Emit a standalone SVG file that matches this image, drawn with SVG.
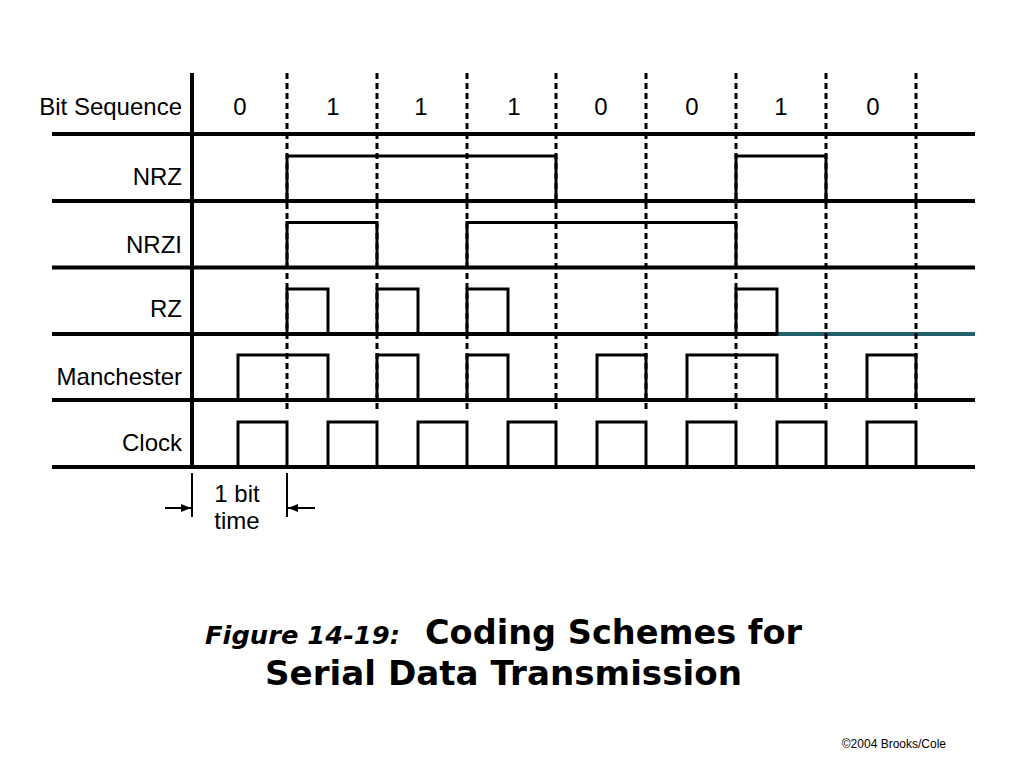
<svg xmlns="http://www.w3.org/2000/svg" width="1024" height="768" viewBox="0 0 1024 768">
<defs>
<style>
.lbl{font-family:"Liberation Sans",Arial,sans-serif;font-size:24px;fill:#000}
.bit{font-family:"Liberation Sans",Arial,sans-serif;font-size:24px;fill:#000;text-anchor:middle}
.axis{stroke:#000;stroke-width:4;fill:none}
.dash{stroke:#000;stroke-width:3;stroke-dasharray:6 4;fill:none}
.sig{stroke:#000;stroke-width:3;fill:none;stroke-linejoin:miter;stroke-linecap:square}
.thin{stroke:#000;stroke-width:2;fill:none}
</style>
<marker id="ah" viewBox="0 0 10 10" refX="10" refY="5" markerWidth="5" markerHeight="5" orient="auto" markerUnits="strokeWidth">
<path d="M0,1 L10,5 L0,9 z" fill="#000"/>
</marker>
</defs>
<rect width="1024" height="768" fill="#fff"/>

<g id="grid">
<line class="axis" x1="192" y1="73" x2="192" y2="467"/>
<line class="axis" x1="52" y1="134" x2="975" y2="134"/>
<line class="axis" x1="52" y1="201" x2="975" y2="201"/>
<line class="axis" x1="52" y1="267.5" x2="975" y2="267.5"/>
<line class="axis" x1="52" y1="334" x2="777" y2="334"/>
<line stroke="#22606c" stroke-width="4" x1="777" y1="334" x2="975" y2="334"/>
<line class="axis" x1="52" y1="400" x2="975" y2="400"/>
<line class="axis" x1="52" y1="467" x2="975" y2="467"/>
<g class="dashes">
<line class="dash" x1="287" y1="73" x2="287" y2="412"/>
<line class="dash" x1="377" y1="73" x2="377" y2="412"/>
<line class="dash" x1="467" y1="73" x2="467" y2="412"/>
<line class="dash" x1="556" y1="73" x2="556" y2="412"/>
<line class="dash" x1="646" y1="73" x2="646" y2="412"/>
<line class="dash" x1="736" y1="73" x2="736" y2="412"/>
<line class="dash" x1="826" y1="73" x2="826" y2="412"/>
<line class="dash" x1="916" y1="73" x2="916" y2="412"/>
</g>
</g>

<g id="bit-sequence">
<text class="lbl" x="182" y="115" text-anchor="end">Bit Sequence</text>
<text class="bit" x="240" y="115">0</text>
<text class="bit" x="333" y="115">1</text>
<text class="bit" x="421" y="115">1</text>
<text class="bit" x="514" y="115">1</text>
<text class="bit" x="601" y="115">0</text>
<text class="bit" x="692" y="115">0</text>
<text class="bit" x="781" y="115">1</text>
<text class="bit" x="873" y="115">0</text>
</g>

<g id="nrz">
<text class="lbl" x="182" y="185" text-anchor="end">NRZ</text>
<polyline class="sig" points="287,201 287,156 556,156 556,201"/>
<polyline class="sig" points="736,201 736,156 826,156 826,201"/>
</g>

<g id="nrzi">
<text class="lbl" x="182" y="252.5" text-anchor="end">NRZI</text>
<polyline class="sig" points="287,267.5 287,222.5 377,222.5 377,267.5"/>
<polyline class="sig" points="467,267.5 467,222.5 736,222.5 736,267.5"/>
</g>

<g id="rz">
<text class="lbl" x="182" y="317" text-anchor="end">RZ</text>
<polyline class="sig" points="287,334 287,289 328,289 328,334"/>
<polyline class="sig" points="377,334 377,289 418,289 418,334"/>
<polyline class="sig" points="467,334 467,289 508,289 508,334"/>
<polyline class="sig" points="736,334 736,289 777,289 777,334"/>
</g>

<g id="manchester">
<text class="lbl" x="182" y="385" text-anchor="end">Manchester</text>
<polyline class="sig" points="238,400 238,355 328,355 328,400"/>
<polyline class="sig" points="377,400 377,355 418,355 418,400"/>
<polyline class="sig" points="467,400 467,355 508,355 508,400"/>
<polyline class="sig" points="597,400 597,355 646,355 646,400"/>
<polyline class="sig" points="687,400 687,355 777,355 777,400"/>
<polyline class="sig" points="867,400 867,355 916,355 916,400"/>
</g>

<g id="clock">
<text class="lbl" x="182" y="451" text-anchor="end">Clock</text>
<polyline class="sig" points="238,467 238,422 287,422 287,467"/>
<polyline class="sig" points="328,467 328,422 377,422 377,467"/>
<polyline class="sig" points="418,467 418,422 467,422 467,467"/>
<polyline class="sig" points="508,467 508,422 556,422 556,467"/>
<polyline class="sig" points="597,467 597,422 646,422 646,467"/>
<polyline class="sig" points="687,467 687,422 736,422 736,467"/>
<polyline class="sig" points="777,467 777,422 826,422 826,467"/>
<polyline class="sig" points="867,467 867,422 916,422 916,467"/>
</g>

<g id="bit-time">
<line class="thin" x1="192" y1="473" x2="192" y2="517"/>
<line class="thin" x1="287" y1="473" x2="287" y2="517"/>
<text class="bit" x="237" y="502" font-size="23">1 bit</text>
<text class="bit" x="237" y="529" font-size="23">time</text>
</g>

<g id="connectors">
<line class="thin" x1="165" y1="508" x2="191" y2="508" marker-end="url(#ah)"/>
<line class="thin" x1="315" y1="508" x2="288" y2="508" marker-end="url(#ah)"/>
</g>

<g id="caption">
<text x="205" y="644" font-family="'DejaVu Sans',Verdana,sans-serif" font-size="25" font-weight="bold" font-style="italic" textLength="195" lengthAdjust="spacingAndGlyphs">Figure 14-19:</text>
<text x="425" y="644" font-family="'DejaVu Sans',Verdana,sans-serif" font-size="33" font-weight="bold" textLength="377" lengthAdjust="spacingAndGlyphs">Coding Schemes for</text>
<text x="503.5" y="685" font-family="'DejaVu Sans',Verdana,sans-serif" font-size="33" font-weight="bold" text-anchor="middle" textLength="477" lengthAdjust="spacingAndGlyphs">Serial Data Transmission</text>
<text x="946" y="748" font-family="'Liberation Sans',Arial,sans-serif" font-size="12" text-anchor="end">©2004 Brooks/Cole</text>
</g>
</svg>
